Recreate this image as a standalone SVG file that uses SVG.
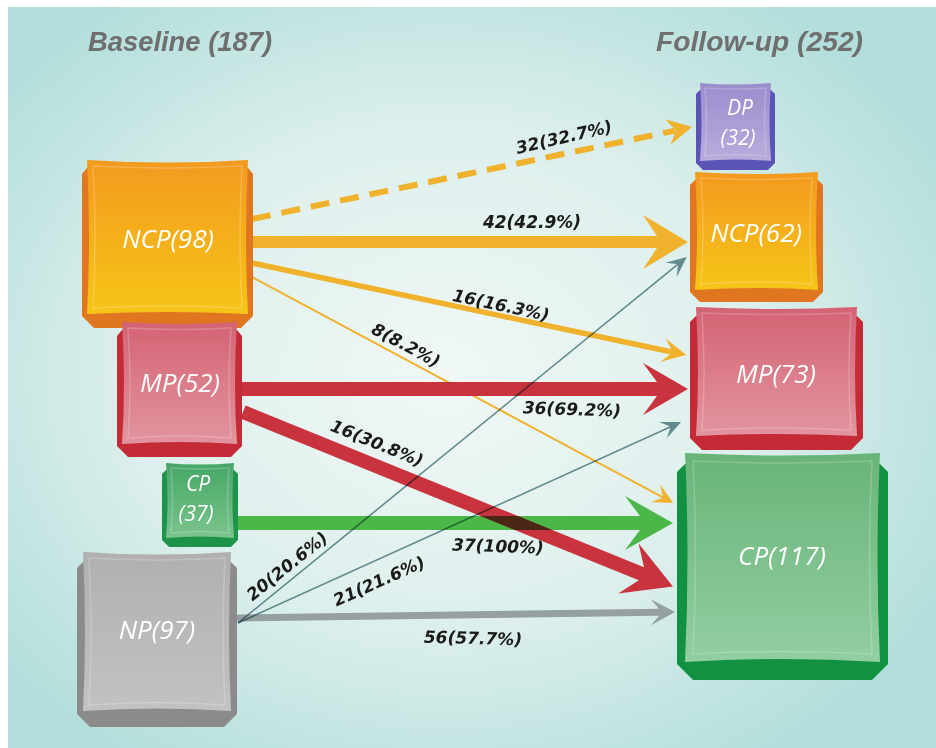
<svg xmlns="http://www.w3.org/2000/svg" width="936" height="748" viewBox="0 0 936 748">
<defs>
<radialGradient id="bg" cx="0.47" cy="0.5" r="0.62">
<stop offset="0" stop-color="#f1f8f6"/>
<stop offset="0.55" stop-color="#dcefec"/>
<stop offset="1" stop-color="#b2dedb"/>
</radialGradient>
<linearGradient id="gOr" x1="0" y1="0" x2="0" y2="1"><stop offset="0" stop-color="#f39a1f"/><stop offset="1" stop-color="#f6c517"/></linearGradient>
<linearGradient id="gRd" x1="0" y1="0" x2="0" y2="1"><stop offset="0" stop-color="#d46373"/><stop offset="1" stop-color="#e2959f"/></linearGradient>
<linearGradient id="gGn" x1="0" y1="0" x2="0" y2="1"><stop offset="0" stop-color="#45a766"/><stop offset="1" stop-color="#7cc48d"/></linearGradient>
<linearGradient id="gGy" x1="0" y1="0" x2="0" y2="1"><stop offset="0" stop-color="#b0b0b0"/><stop offset="1" stop-color="#c2c2c2"/></linearGradient>
<linearGradient id="gPu" x1="0" y1="0" x2="0" y2="1"><stop offset="0" stop-color="#9b8ccd"/><stop offset="1" stop-color="#b9acdc"/></linearGradient>
<linearGradient id="gGn2" x1="0" y1="0" x2="0" y2="1"><stop offset="0" stop-color="#68b479"/><stop offset="1" stop-color="#92cea1"/></linearGradient>
<clipPath id="redDiag">
<path transform="translate(243,412) rotate(22.1)" d="M0,-7 L430,-7 L416,-27 L464,0 L416,27 L430,7 L0,7 Z"/>
</clipPath>
</defs>
<style>
.title{font-family:"Liberation Sans",Arial,sans-serif;font-weight:bold;font-style:italic;font-size:27px;fill:#6f6f6f}
.nt{font-family:"Open Sans","Liberation Sans",sans-serif;font-style:italic;font-size:26px;fill:#ffffff;text-anchor:middle}
.nts{font-size:21px}
.lbl{font-family:"DejaVu Sans",sans-serif;font-weight:bold;font-style:italic;font-size:17px;fill:#1a1a1a;text-anchor:middle}
.inner{fill:none;stroke:#ffffff;stroke-opacity:0.2;stroke-width:1.5}
.yel{fill:#f0b22c}
.red{fill:#c8333d}
.grn{fill:#4cb749}
.gry{fill:#969fa1}
.thin{fill:#6f9298}
</style>
<rect x="0" y="0" width="936" height="748" fill="#ffffff"/>
<rect x="8" y="7" width="928" height="741" fill="url(#bg)"/>

<text class="title" x="88" y="51" textLength="184" lengthAdjust="spacingAndGlyphs">Baseline (187)</text>
<text class="title" x="656" y="51" textLength="207" lengthAdjust="spacingAndGlyphs">Follow-up (252)</text>

<g id="connectors">
<g transform="translate(252,219) rotate(-11.8)">
<line x1="0" y1="0" x2="432" y2="0" stroke="#f0b22c" stroke-width="6" stroke-dasharray="19 11"/>
<path class="yel" d="M449.5,0 L425,-13 L433,0 L425,13 Z"/>
</g>
<path class="yel" d="M253,236 L657,236 L643,215 L688,242 L643,269 L657,248 L253,248 Z"/>
<path class="yel" transform="translate(252,263) rotate(11.97)" d="M0,-2.75 L428,-2.75 L420,-12 L444,0 L420,12 L428,2.75 L0,2.75 Z"/>
<path class="yel" transform="translate(250,276) rotate(28.2)" d="M0,-1 L468,-1 L460,-10 L480,0 L460,10 L468,1 L0,1 Z"/>
<path class="red" d="M242,382 L657,382 L643,363 L688,389 L643,415 L657,396 L242,396 Z"/>
<path class="grn" d="M238,516 L640,516 L625,496 L673,523 L625,550 L640,530 L238,530 Z"/>
<path class="red" transform="translate(243,412) rotate(22.1)" d="M0,-7 L430,-7 L416,-27 L464,0 L416,27 L430,7 L0,7 Z"/>
<rect x="238" y="516" width="420" height="14" fill="#4a2815" clip-path="url(#redDiag)"/>
<path class="gry" transform="translate(237,618) rotate(-0.78)" d="M0,-3.5 L422,-3.5 L414,-13 L438,0 L414,13 L422,3.5 L0,3.5 Z"/>
<path class="thin" style="mix-blend-mode:multiply" transform="translate(238,623) rotate(-39.2)" d="M0,-0.8 L567,-0.8 L559,-9 L579,0 L559,9 L567,0.8 L0,0.8 Z"/>
<path class="thin" style="mix-blend-mode:multiply" transform="translate(238,623) rotate(-24.4)" d="M0,-0.8 L474.5,-0.8 L466.5,-9 L486.5,0 L466.5,9 L474.5,0.8 L0,0.8 Z"/>

<text class="lbl" transform="translate(564,137) rotate(-13)" y="6">32(32.7%)</text>
<text class="lbl" x="532" y="228">42(42.9%)</text>
<text class="lbl" transform="translate(501,305) rotate(12)" y="6">16(16.3%)</text>
<text class="lbl" transform="translate(406,345) rotate(28)" y="6">8(8.2%)</text>
<text class="lbl" transform="translate(572,409) rotate(2)" y="6">36(69.2%)</text>
<text class="lbl" transform="translate(377,443) rotate(22)" y="6">16(30.8%)</text>
<text class="lbl" transform="translate(498,546) rotate(2)" y="6">37(100%)</text>
<text class="lbl" transform="translate(473,638) rotate(1.5)" y="6">56(57.7%)</text>
<text class="lbl" transform="translate(287,566) rotate(-39)" y="6">20(20.6%)</text>
<text class="lbl" transform="translate(379,581) rotate(-24)" y="6">21(21.6%)</text>
</g>

<g id="node-ncp98">
<path fill="#e0761f" d="M82,174 L87,168 L248,168 L253,174 L253,316 L241,328 L94,328 L82,316 Z"/>
<path fill="url(#gOr)" d="M87,160 Q168,165 248,160 Q244,237 248,314 Q168,310 87,314 Q91,237 87,160 Z"/>
<path class="inner" d="M93,166 Q168,170 242,166 Q238,237 242,308 Q168,304 93,308 Q97,237 93,166 Z"/>
<text class="nt" x="168" y="248">NCP(98)</text>
</g>

<g id="node-mp52">
<path fill="#c42b37" d="M117,336 L122,330 L237,330 L242,336 L242,446 L231,457 L128,457 L117,446 Z"/>
<path fill="url(#gRd)" d="M122,322 Q180,326 237,322 Q233,383 237,444 Q180,440 122,444 Q126,383 122,322 Z"/>
<path class="inner" d="M128,328 Q180,331 231,328 Q227,383 231,438 Q180,434 128,438 Q132,383 128,328 Z"/>
<text class="nt" x="180" y="392">MP(52)</text>
</g>

<g id="node-cp37">
<path fill="#1e9448" d="M162,474 L166,470 L234,470 L238,474 L238,540 L231,547 L169,547 L162,540 Z"/>
<path fill="url(#gGn)" d="M166,463 Q200,466 234,463 Q231,500 234,538 Q200,535 166,538 Q169,500 166,463 Z"/>
<path class="inner" d="M171,468 Q200,470 229,468 Q226,500 229,533 Q200,530 171,533 Q174,500 171,468 Z"/>
<text class="nt nts"><tspan x="198" y="491">CP</tspan><tspan x="196" y="521">(37)</tspan></text>
</g>

<g id="node-np97">
<path fill="#8b8b8b" d="M77,568 L83,562 L231,562 L237,568 L237,714 L224,727 L90,727 L77,714 Z"/>
<path fill="url(#gGy)" d="M83,552 Q157,557 231,552 Q227,632 231,711 Q157,706 83,711 Q87,632 83,552 Z"/>
<path class="inner" d="M89,558 Q157,562 225,558 Q221,632 225,705 Q157,700 89,705 Q93,632 89,558 Z"/>
<text class="nt" x="157" y="639">NP(97)</text>
</g>

<g id="node-dp32">
<path fill="#5b54b5" d="M696,94 L700,90 L771,90 L775,94 L775,163 L768,170 L703,170 L696,163 Z"/>
<path fill="url(#gPu)" d="M700,83 Q735,86 771,83 Q768,122 771,161 Q735,158 700,161 Q703,122 700,83 Z"/>
<path class="inner" d="M705,88 Q735,90 766,88 Q763,122 766,156 Q735,153 705,156 Q708,122 705,88 Z"/>
<text class="nt nts"><tspan x="740" y="115">DP</tspan><tspan x="738" y="145">(32)</tspan></text>
</g>

<g id="node-ncp62">
<path fill="#e0761f" d="M690,185 L695,180 L818,180 L823,185 L823,292 L813,302 L700,302 L690,292 Z"/>
<path fill="url(#gOr)" d="M695,172 Q757,176 818,172 Q814,231 818,290 Q757,286 695,290 Q699,231 695,172 Z"/>
<path class="inner" d="M701,178 Q757,181 812,178 Q808,231 812,284 Q757,280 701,284 Q705,231 701,178 Z"/>
<text class="nt" x="756" y="242">NCP(62)</text>
</g>

<g id="node-mp73">
<path fill="#c42b37" d="M690,322 L696,316 L857,316 L863,322 L863,438 L851,450 L702,450 L690,438 Z"/>
<path fill="url(#gRd)" d="M696,307 Q777,311 857,307 Q853,372 857,436 Q777,432 696,436 Q700,372 696,307 Z"/>
<path class="inner" d="M702,313 Q777,316 851,313 Q847,372 851,430 Q777,426 702,430 Q706,372 702,313 Z"/>
<text class="nt" x="776" y="383">MP(73)</text>
</g>

<g id="node-cp117">
<path fill="#139142" d="M677,472 L685,464 L880,464 L888,472 L888,664 L872,680 L693,680 L677,664 Z"/>
<path fill="url(#gGn2)" d="M685,453 Q782,458 880,453 Q875,558 880,662 Q782,656 685,662 Q690,558 685,453 Z"/>
<path class="inner" d="M693,461 Q782,465 872,461 Q867,558 872,654 Q782,649 693,654 Q698,558 693,461 Z"/>
<text class="nt" x="782" y="565">CP(117)</text>
</g>
</svg>
